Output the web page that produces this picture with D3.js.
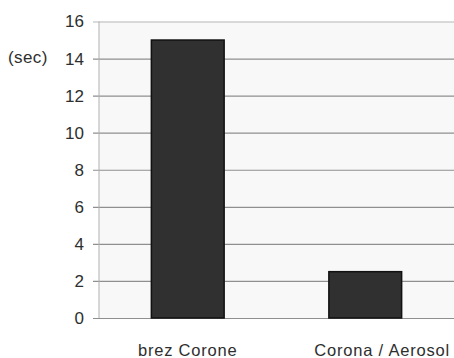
<!DOCTYPE html>
<html>
<head>
<meta charset="utf-8">
<script src="https://cdn.jsdelivr.net/npm/d3@7/dist/d3.min.js"></script>
<style>
  html, body { margin: 0; padding: 0; background: #ffffff; }
  svg { display: block; font-family: Arial, "Liberation Sans", sans-serif; }
</style>
</head>
<body>
<svg id="chart" width="454" height="358"></svg>
<script>
// Data
const categories = ["brez Corone", "Corona / Aerosol"];
const seconds = [15, 2.5];
const yTicks = [0, 2, 4, 6, 8, 10, 12, 14, 16];
const unitLabel = "(sec)";

const svg = d3.select("#chart");
const margin = { top: 21.5, right: 0, bottom: 40, left: 99 };
const width = 454 - margin.left - margin.right;
const height = 358 - margin.top - margin.bottom;

const x = d3.scaleBand()
  .domain(categories)
  .range([0, width])
  .paddingInner(0.59)
  .paddingOuter(0.295);

const y = d3.scaleLinear().domain([0, 16]).range([height, 0]);

const g = svg.append("g").attr("transform", `translate(${margin.left},${margin.top})`);

// Plot background
g.append("rect")
  .attr("x", 0).attr("y", 0)
  .attr("width", width).attr("height", height)
  .attr("fill", "#f8f8f8");

// Gridlines with short ticks on the left
const yAxis = d3.axisLeft(y)
  .tickValues(yTicks)
  .tickSize(-width)
  .tickPadding(15)
  .tickFormat(d3.format("d"));

const ya = g.append("g").call(yAxis);
ya.select(".domain").remove();
ya.selectAll(".tick line")
  .attr("x1", -6)
  .attr("stroke", d => d === 16 ? "#b8b8b8" : "#8f8f8f")
  .attr("stroke-width", 1.2);
ya.selectAll(".tick text")
  .attr("fill", "#2e2e2e")
  .attr("font-size", 17);

// Vertical left edge of the plot
g.append("line")
  .attr("x1", 0).attr("x2", 0)
  .attr("y1", 0).attr("y2", height)
  .attr("stroke", "#b0b0b0")
  .attr("stroke-width", 1);

// Bars
g.selectAll("rect.bar")
  .data(seconds)
  .join("rect")
  .attr("class", "bar")
  .attr("x", (d, i) => x(categories[i]))
  .attr("y", d => y(d))
  .attr("width", x.bandwidth())
  .attr("height", d => height - y(d))
  .attr("fill", "#303030")
  .attr("stroke", "#111111")
  .attr("stroke-width", 1.5);

// Category labels: centred under each bar, the last one pushed to the right edge
const lastCat = categories[categories.length - 1];
g.selectAll("text.cat")
  .data(categories)
  .join("text")
  .attr("class", "cat")
  .attr("x", d => d === lastCat ? width - 4 : x(d) + x.bandwidth() / 2)
  .attr("y", height + 38)
  .attr("text-anchor", d => d === lastCat ? "end" : "middle")
  .attr("fill", "#2e2e2e")
  .attr("font-size", 16.5)
  .attr("letter-spacing", 0.8)
  .text(d => d);

// Unit label next to the axis
svg.append("text")
  .attr("x", 8)
  .attr("y", y(14) + margin.top + 4)
  .attr("fill", "#2e2e2e")
  .attr("font-size", 17)
  .attr("letter-spacing", 0.4)
  .text(unitLabel);
</script>
</body>
</html>
